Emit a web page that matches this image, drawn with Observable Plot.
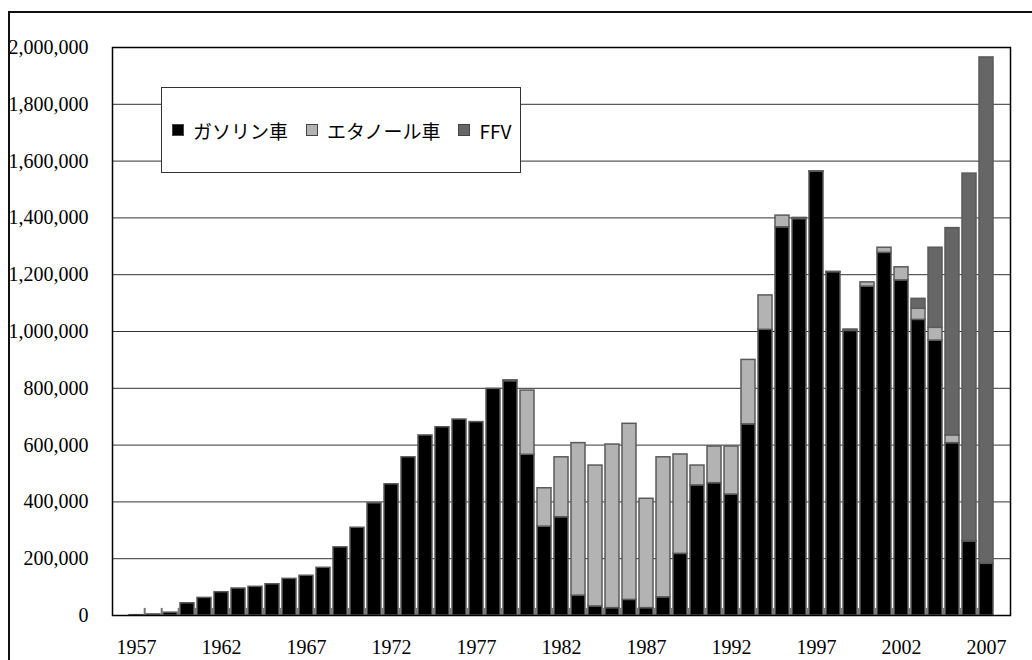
<!DOCTYPE html>
<html>
<head>
<meta charset="utf-8">
<script src="https://cdn.jsdelivr.net/npm/d3@7"></script>
<script src="https://cdn.jsdelivr.net/npm/@observablehq/plot@0.6"></script>
<style>
  html, body { margin: 0; padding: 0; background: #fff; overflow: hidden; }
  #wrap { position: relative; width: 1032px; height: 660px; overflow: hidden; background: #fff; }
  #border { position: absolute; left: 8px; top: 11px; width: 1060px; height: 700px; border: 2px solid #111; box-sizing: border-box; pointer-events: none; }
  #chart { position: absolute; left: 0; top: 0; }
  #legend { position: absolute; left: 161px; top: 87px; width: 360px; height: 86px; box-sizing: border-box;
            border: 1.5px solid #333; background: #fff; display: flex; align-items: center; white-space: nowrap;
            font-family: "Noto Sans CJK JP", "Noto Sans", sans-serif; font-size: 19px; color: #000; padding-left: 10px; }
  .sw { width: 10px; height: 10px; border: 1px solid #444; display: inline-block; margin-right: 9px; flex-shrink: 0; }
  .it { display: flex; align-items: center; margin-right: 18px; flex-shrink: 0; white-space: nowrap; }
</style>
</head>
<body>
<div id="wrap">
  <div id="chart"></div>
  <div id="legend"></div>
  <div id="border"></div>
</div>
<script>
const years = [1957,1958,1959,1960,1961,1962,1963,1964,1965,1966,1967,1968,1969,1970,1971,1972,1973,1974,1975,1976,1977,1978,1979,1980,1981,1982,1983,1984,1985,1986,1987,1988,1989,1990,1991,1992,1993,1994,1995,1996,1997,1998,1999,2000,2001,2002,2003,2004,2005,2006,2007];
const gasoline = [1200,3800,10000,43000,62000,82000,95000,101000,110000,129000,140000,168000,240000,309000,395000,462000,557000,634000,663000,690000,681000,798000,825000,566000,313000,346000,70000,32000,26000,55000,26000,64000,217000,458000,466000,426000,673000,1006000,1367000,1396000,1563000,1209000,1002000,1158000,1277000,1180000,1041000,968000,607000,261000,182000];
const ethanol = [0,0,0,0,0,0,0,0,0,0,0,0,0,0,0,0,0,0,0,0,0,0,3000,226000,135000,211000,537000,496000,576000,620000,385000,493000,350000,70000,129000,169000,227000,121000,41000,4000,1000,1000,5000,15000,18000,46000,39000,45000,27000,1000,0];
const ffv = [0,0,0,0,0,0,0,0,0,0,0,0,0,0,0,0,0,0,0,0,0,0,0,0,0,0,0,0,0,0,0,0,0,0,0,0,0,0,0,0,0,0,0,0,0,0,35000,282000,730000,1294000,1783000];
const types = ["ガソリン車", "エタノール車", "FFV"];
const colors = ["#000000", "#b3b3b3", "#666666"];
const xTickLabels = [1957,1962,1967,1972,1977,1982,1987,1992,1997,2002,2007];
const yTickValues = [0,200000,400000,600000,800000,1000000,1200000,1400000,1600000,1800000,2000000];

const series = [gasoline, ethanol, ffv];
const data = years.flatMap((yr, i) => types.map((t, k) => ({year: yr, type: t, value: series[k][i]})));

const W = 1032, H = 660, mL = 112, mR = 22, mT = 47, mB = 45;
const step = (W - mL - mR) / years.length;

const chart = Plot.plot({
  width: W, height: H,
  marginLeft: mL, marginRight: mR, marginTop: mT, marginBottom: mB,
  style: {fontFamily: "'Liberation Serif', 'Times New Roman', serif", fontSize: "20px", color: "#000", background: "transparent", overflow: "visible"},
  x: {type: "band", domain: years, padding: 0.18, label: null},
  y: {domain: [0, 2000000], label: null},
  color: {domain: types, range: colors},
  marks: [
    Plot.gridY(yTickValues, {stroke: "#333", strokeOpacity: 1, strokeWidth: 1}),
    Plot.barY(data, {x: "year", y: "value", fill: "type", order: types, stroke: "#5a5a5a", strokeWidth: 1.5}),
    Plot.ruleX(years.slice(1), {x: d => d, dx: -step / 2, y1: 0, y2: 25000, stroke: "#777", strokeWidth: 2}),
    Plot.frame({stroke: "#000", strokeWidth: 1.5}),
    Plot.axisX(xTickLabels, {tickSize: 0, tickPadding: 24, fontSize: 20, tickFormat: d => String(d), label: null}),
    Plot.axisY(yTickValues, {tickSize: 0, tickPadding: 24, fontSize: 20, tickFormat: d3.format(","), label: null})
  ]
});
document.getElementById("chart").appendChild(chart);

const leg = document.getElementById("legend");
types.forEach((t, k) => {
  const it = document.createElement("span");
  it.className = "it";
  const sw = document.createElement("span");
  sw.className = "sw";
  sw.style.background = colors[k];
  const tx = document.createElement("span");
  tx.textContent = t;
  it.appendChild(sw); it.appendChild(tx);
  leg.appendChild(it);
});
</script>
</body>
</html>
